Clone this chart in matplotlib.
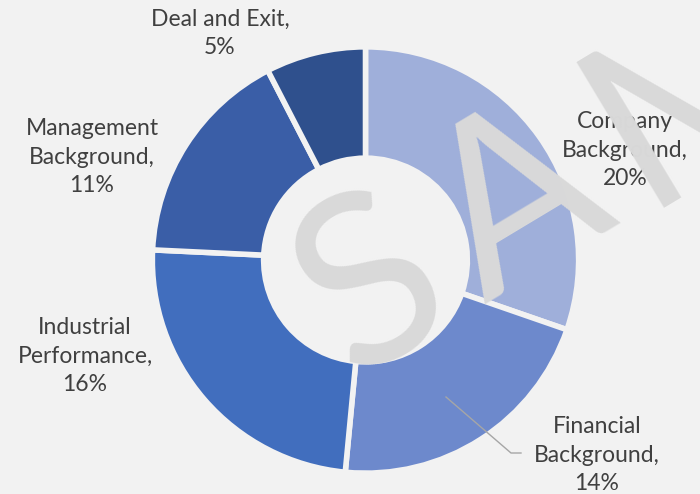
import matplotlib.pyplot as plt

# data
labels = ["Company\nBackground,\n20%", "Financial\nBackground,\n14%",
          "Industrial\nPerformance,\n16%", "Management\nBackground,\n11%",
          "Deal and Exit,\n5%"]
values = [20, 14, 16, 11, 5]
colors = ["#9FAFDA", "#6D89CC", "#416EBE", "#3A5EA7", "#2F508D"]

bg = "#F2F2F2"
W, H = 700, 494
cx, cy, R = 365.5, 260, 210


def px(x, y):
    # pixel position -> data coords (1 unit = 210 px)
    return (x - cx) / R, (cy - y) / R


fig = plt.figure(figsize=(7, 4.94), dpi=100, facecolor=bg)
ax = fig.add_axes([0, 0, 1, 1])
ax.set_facecolor(bg)

ax.pie(values, colors=colors, startangle=90, counterclock=False, radius=1.015,
       wedgeprops=dict(width=0.53, edgecolor=bg, linewidth=4))

# pie() resets limits/aspect, so fix them afterwards
ax.set_aspect("auto")
ax.set_xlim(-cx / R, (W - cx) / R)
ax.set_ylim(-(H - cy) / R, cy / R)
ax.axis("off")

font = "Lato"
label_pos = [(625, 150), (597, 455), (85, 356), (92, 157), (220, 33)]
for lab, (x, y) in zip(labels, label_pos):
    ax.text(*px(x, y), lab, ha="center", va="center", fontsize=16.5,
            color="#404040", family=font, linespacing=1.42)

# leader line for Financial Background
p1, p2, p3 = px(446, 397), px(511, 453), px(521, 453)
ax.plot([p1[0], p2[0], p3[0]], [p1[1], p2[1], p3[1]], color="#A6A6A6", lw=1)

# watermark letters, rotated 31 deg, drawn over everything
wm = dict(rotation=31, rotation_mode="anchor", va="baseline", fontsize=170,
          color="#D9D9D9", family=font, zorder=10)
ax.text(*px(407, 346), "S", ha="center", **wm)
ax.text(*px(553, 263), "A", ha="center", **wm)
ax.text(*px(642, 208), "M", ha="left", **wm)

fig.savefig("out.png", dpi=100, facecolor=bg)
